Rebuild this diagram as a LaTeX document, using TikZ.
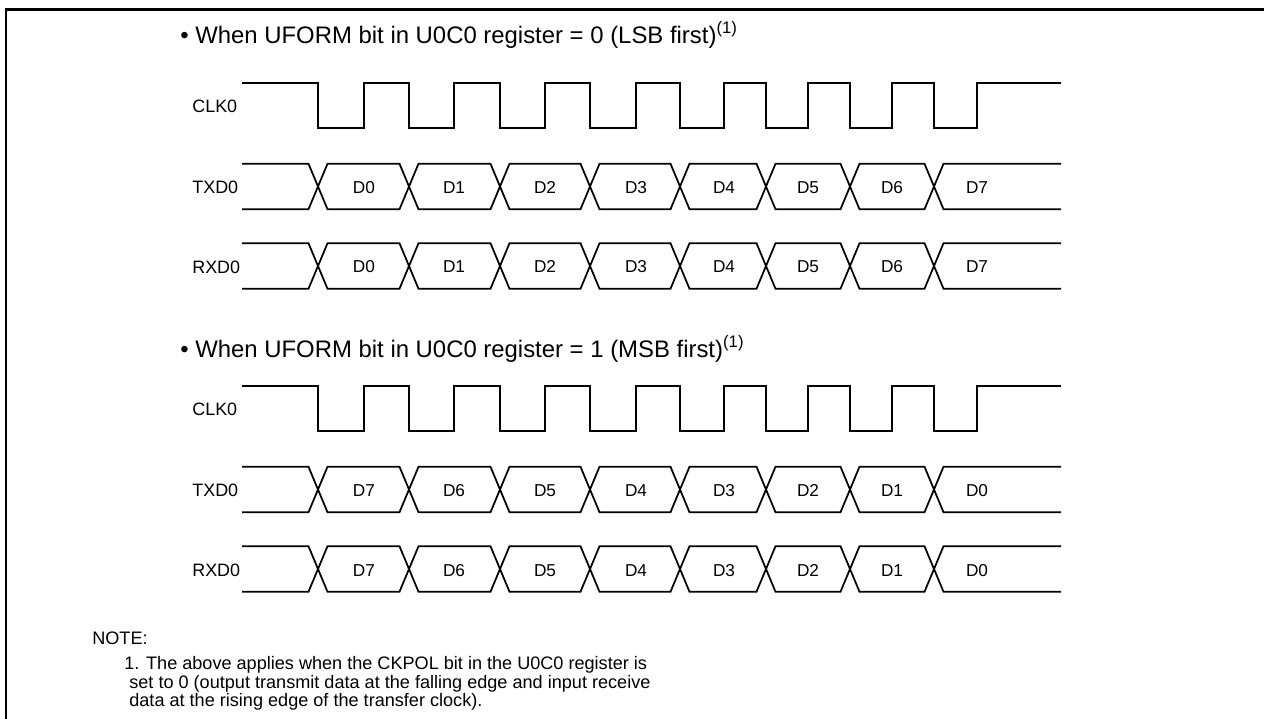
\documentclass[tikz,border=0pt]{standalone}
\usepackage{fontspec}
\setmainfont{Liberation Sans}

\begin{document}
\begin{tikzpicture}[x=0.02cm, y=-0.02cm,
  wave/.style={line width=1pt},
  heading/.style={anchor=west, inner sep=0pt, font=\fontsize{13.6}{16}\selectfont},
  signame/.style={anchor=west, inner sep=0pt, font=\fontsize{10.2}{12}\selectfont},
  bitname/.style={anchor=base, inner sep=0pt, font=\fontsize{9.8}{12}\selectfont}]
\useasboundingbox (0,0) rectangle (1264,719);
% frame, only its top and left sides are in view
\draw[line width=1.7pt] (6,719) -- (6,9.5) -- (1264,9.5);

% the two cases: LSB first, MSB first
\foreach \s/\ty/\dy/\bitval/\mode/\lead/\dir in {1/35/0/0/LSB/0/1, 2/349/303/1/MSB/7/-1} {
  \node[heading] (head\s) at (180,\ty) {\textbullet\ When UFORM bit in U0C0 register = \bitval\ (\mode\ first)\textsuperscript{(1)}};
  \node[signame] (clk\s) at (192,{106+\dy}) {CLK0};
  \node[signame] (txd\s) at (192,{187+\dy}) {TXD0};
  \node[signame] (rxd\s) at (192,{267+\dy}) {RXD0};
  % clock
  \draw[wave] (242,{83+\dy})
    foreach \f/\r in {318/364,409/454,500/545,590/636,680/724,766/808,850/892,934/977}
      { -- (\f,{83+\dy}) -- (\f,{128+\dy}) -- (\r,{128+\dy}) -- (\r,{83+\dy}) }
    -- (1061,{83+\dy});
  % data, both rows
  \foreach \yc/\row in {186.5/tx, 266/rx} {
    \foreach \sg in {-1,1}
      \draw[wave] (242,{\yc+\dy+\sg*22.75})
        foreach \c [count=\k] in {318,409,500,590,680,766,850,934}
          { -- ({\c-9.5},{\yc+\dy+\sg*22.75*(1-2*mod(\k+1,2))})
            -- ({\c+9.5},{\yc+\dy-\sg*22.75*(1-2*mod(\k+1,2))}) }
        -- (1061,{\yc+\dy+\sg*22.75});
    \foreach \r [count=\k from 0] in {364,454,545,636,724,808,892,977} {
      \pgfmathtruncatemacro\bit{\lead+\dir*\k}
      \node[bitname] (\row\s-\k) at (\r,{\yc+\dy+7}) {D\bit};
    }
  }
}

% note
\node[anchor=west, inner sep=0pt, font=\fontsize{10.3}{12}\selectfont] (note) at (92,638) {NOTE:};
\node[anchor=north west, inner sep=0pt, align=left, font=\fontsize{10.3}{10.6}\selectfont] (notetext) at (124,656)
  {1. The above applies when the CKPOL bit in the U0C0 register is\\
   \hspace*{0.1cm}set to 0 (output transmit data at the falling edge and input receive\\
   \hspace*{0.1cm}data at the rising edge of the transfer clock).};
\end{tikzpicture}
\end{document}
